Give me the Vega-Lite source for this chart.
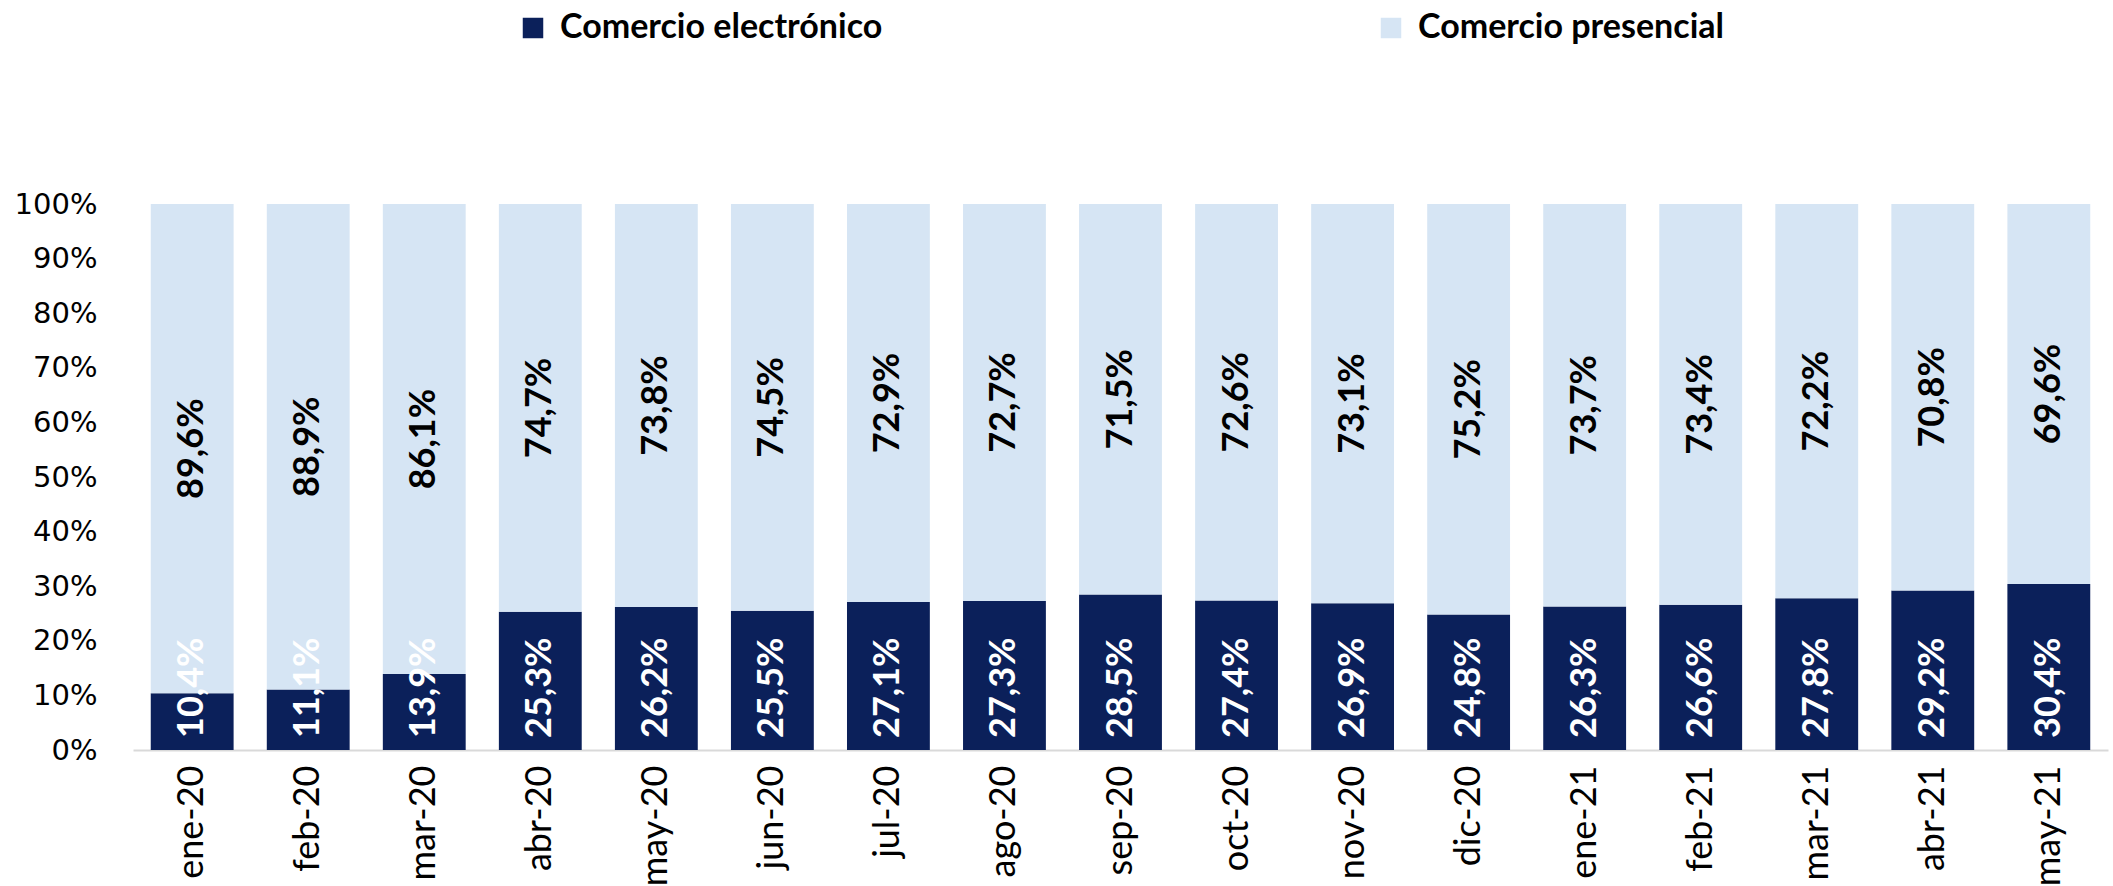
{
  "$schema": "https://vega.github.io/schema/vega-lite/v6.json",
  "autosize": {"type": "none"},
  "padding": {"left": 133, "top": 204, "right": 5, "bottom": 136},
  "width": 1975,
  "height": 546,
  "background": "white",
  "config": {"view": {"stroke": null}},
  "data": {"values": [
    {"mes": "ene-20", "tipo": "Comercio electrónico", "valor": 10.4},
    {"mes": "ene-20", "tipo": "Comercio presencial", "valor": 89.6},
    {"mes": "feb-20", "tipo": "Comercio electrónico", "valor": 11.1},
    {"mes": "feb-20", "tipo": "Comercio presencial", "valor": 88.9},
    {"mes": "mar-20", "tipo": "Comercio electrónico", "valor": 13.9},
    {"mes": "mar-20", "tipo": "Comercio presencial", "valor": 86.1},
    {"mes": "abr-20", "tipo": "Comercio electrónico", "valor": 25.3},
    {"mes": "abr-20", "tipo": "Comercio presencial", "valor": 74.7},
    {"mes": "may-20", "tipo": "Comercio electrónico", "valor": 26.2},
    {"mes": "may-20", "tipo": "Comercio presencial", "valor": 73.8},
    {"mes": "jun-20", "tipo": "Comercio electrónico", "valor": 25.5},
    {"mes": "jun-20", "tipo": "Comercio presencial", "valor": 74.5},
    {"mes": "jul-20", "tipo": "Comercio electrónico", "valor": 27.1},
    {"mes": "jul-20", "tipo": "Comercio presencial", "valor": 72.9},
    {"mes": "ago-20", "tipo": "Comercio electrónico", "valor": 27.3},
    {"mes": "ago-20", "tipo": "Comercio presencial", "valor": 72.7},
    {"mes": "sep-20", "tipo": "Comercio electrónico", "valor": 28.5},
    {"mes": "sep-20", "tipo": "Comercio presencial", "valor": 71.5},
    {"mes": "oct-20", "tipo": "Comercio electrónico", "valor": 27.4},
    {"mes": "oct-20", "tipo": "Comercio presencial", "valor": 72.6},
    {"mes": "nov-20", "tipo": "Comercio electrónico", "valor": 26.9},
    {"mes": "nov-20", "tipo": "Comercio presencial", "valor": 73.1},
    {"mes": "dic-20", "tipo": "Comercio electrónico", "valor": 24.8},
    {"mes": "dic-20", "tipo": "Comercio presencial", "valor": 75.2},
    {"mes": "ene-21", "tipo": "Comercio electrónico", "valor": 26.3},
    {"mes": "ene-21", "tipo": "Comercio presencial", "valor": 73.7},
    {"mes": "feb-21", "tipo": "Comercio electrónico", "valor": 26.6},
    {"mes": "feb-21", "tipo": "Comercio presencial", "valor": 73.4},
    {"mes": "mar-21", "tipo": "Comercio electrónico", "valor": 27.8},
    {"mes": "mar-21", "tipo": "Comercio presencial", "valor": 72.2},
    {"mes": "abr-21", "tipo": "Comercio electrónico", "valor": 29.2},
    {"mes": "abr-21", "tipo": "Comercio presencial", "valor": 70.8},
    {"mes": "may-21", "tipo": "Comercio electrónico", "valor": 30.4},
    {"mes": "may-21", "tipo": "Comercio presencial", "valor": 69.6}
  ]},
  "transform": [
    {"calculate": "replace(format(datum.valor, '.1f'), '.', ',') + '%'", "as": "etiqueta"}
  ],
  "encoding": {
    "x": {
      "field": "mes", "type": "ordinal", "sort": null,
      "scale": {"paddingInner": 0.286, "paddingOuter": 0.153},
      "axis": {
        "title": null, "labelAngle": -90, "labelPadding": 15, "ticks": false,
        "domainColor": "#d9d9d9", "domainWidth": 2,
        "labelFont": "Lato", "labelFontSize": 36, "labelColor": "#000000"
      }
    }
  },
  "layer": [
    {
      "mark": {"type": "bar"},
      "encoding": {
        "y": {
          "field": "valor", "type": "quantitative", "stack": "zero",
          "scale": {"domain": [0, 100], "nice": false},
          "axis": {
            "title": null, "values": [0, 10, 20, 30, 40, 50, 60, 70, 80, 90, 100],
            "labelExpr": "datum.value + '%'", "grid": false, "domain": false, "ticks": false,
            "labelPadding": 36, "labelFont": "DejaVu Sans", "labelFontSize": 29, "labelColor": "#000000"
          }
        },
        "color": {
          "field": "tipo", "type": "nominal",
          "scale": {"domain": ["Comercio electrónico", "Comercio presencial"], "range": ["#0b205a", "#d6e5f4"]},
          "legend": {
            "title": null, "orient": "none", "legendX": 383, "legendY": -193, "direction": "horizontal",
            "columns": 2, "columnPadding": 491, "padding": 0,
            "symbolType": "square", "symbolSize": 420, "symbolStrokeWidth": 0,
            "labelFont": "Lato", "labelFontWeight": "bold", "labelFontSize": 34,
            "labelColor": "#000000", "labelOffset": 10, "labelLimit": 0
          }
        },
        "order": {"field": "tipo", "sort": "ascending"}
      }
    },
    {
      "transform": [{"filter": "datum.tipo === 'Comercio electrónico'"}],
      "mark": {
        "type": "text", "angle": -90, "align": "left", "baseline": "middle", "dx": 12,
        "font": "Lato", "fontWeight": "bold", "fontSize": 36, "color": "#ffffff"
      },
      "encoding": {
        "y": {"datum": 0, "type": "quantitative"},
        "text": {"field": "etiqueta"}
      }
    },
    {
      "transform": [
        {"filter": "datum.tipo === 'Comercio presencial'"},
        {"calculate": "100 - datum.valor / 2", "as": "medio"}
      ],
      "mark": {
        "type": "text", "angle": -90, "align": "center", "baseline": "middle",
        "font": "Lato", "fontWeight": "bold", "fontSize": 36, "color": "#000000"
      },
      "encoding": {
        "y": {"field": "medio", "type": "quantitative"},
        "text": {"field": "etiqueta"}
      }
    }
  ]
}
